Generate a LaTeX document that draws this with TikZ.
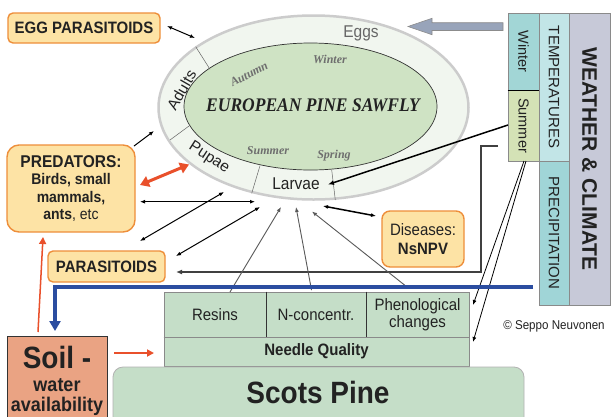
\documentclass[tikz,border=0pt]{standalone}
\usepackage{graphicx}
\usepackage{fontspec}
\setmainfont{Liberation Sans}
\newfontfamily\timesf{Liberation Serif}
\usetikzlibrary{arrows.meta}
\newcommand\myfs[2]{\fontsize{#1}{#2}\selectfont}
\newcommand\vst[1]{\scalebox{1}[1.1]{#1}}
\definecolor{orfill}{HTML}{FDE3A5}
\definecolor{orbord}{HTML}{EE8E3A}
\definecolor{ringf}{HTML}{F1F6EF}
\definecolor{ringb}{HTML}{CCCCCC}
\definecolor{innerf}{HTML}{CFE3C4}
\definecolor{seasonc}{HTML}{6E6E6E}
\definecolor{panelf}{HTML}{C5DEC8}
\definecolor{panelb}{HTML}{8A8A8A}
\definecolor{soilf}{HTML}{EAA383}
\definecolor{blueln}{HTML}{2B4DA0}
\definecolor{redln}{HTML}{E9502B}
\definecolor{winterf}{HTML}{A2D6D6}
\definecolor{summerf}{HTML}{D4E2B6}
\definecolor{tempf}{HTML}{C2E5E7}
\definecolor{precf}{HTML}{A0D5D7}
\definecolor{weatherf}{HTML}{C7C9D8}
\definecolor{bigarrow}{HTML}{98A4BA}
\definecolor{txt}{HTML}{222222}
\begin{document}
\begin{tikzpicture}[x=1pt,y=-1pt,
  orbox/.style={draw=orbord,fill=orfill,line width=1.4pt,rounded corners=5pt,inner sep=0pt,align=center,text=txt},
  colbox/.style={draw=panelb,line width=0.6pt,inner sep=0pt},
  panelcell/.style={draw=panelb,fill=panelf,line width=0.8pt,inner sep=0pt,align=center,text=txt,font=\myfs{15}{17}},
  season/.style={font=\timesf\bfseries\itshape\myfs{12}{14},text=seasonc},
  stage/.style={font=\myfs{15.5}{17},text=txt},
  blk/.style={draw=black,line width=1pt,{Latex[length=5pt,width=4pt]}-{Latex[length=5pt,width=4pt]}},
  blkone/.style={draw=black,line width=1pt,-{Latex[length=5pt,width=4pt]}},
  gry/.style={draw=black!65,line width=0.9pt,-{Latex[length=5pt,width=4pt]}},
]
\useasboundingbox (0,0) rectangle (611,416);
\fill[white] (0,0) rectangle (611,416);

% ---- sawfly life cycle ellipse
\path[draw=ringb,line width=2.5pt,fill=ringf] (313.5,107.5) ellipse [x radius=155pt, y radius=92pt];
\path[draw=black!80,line width=0.7pt,fill=innerf] (310.5,106.5) ellipse [x radius=126.5pt, y radius=63.5pt];
\coordinate (d1a) at (195.7,46.7); \coordinate (d1b) at (210,69.3);
\coordinate (d2a) at (170,140);   \coordinate (d2b) at (189,126);
\coordinate (d3a) at (260,165.7); \coordinate (d3b) at (251.7,193.3);
\coordinate (d4a) at (331.7,170); \coordinate (d4b) at (335.3,200);
\foreach \a/\b in {d1a/d1b,d2a/d2b,d3a/d3b,d4a/d4b} \draw[black!60,line width=0.5pt] (\a) -- (\b);

\node[stage,text=black!60] (eggs) at (361,33) {\vst{Eggs}};
\node[stage,rotate=60,inner sep=0pt] (adults) at (181.5,90) {Adults};
\node[stage,rotate=-33,inner sep=0pt] (pupae) at (209,158) {Pupae};
\node[stage] (larvae) at (296,184) {\vst{Larvae}};
\node[season,rotate=28,inner sep=0pt] (autumn) at (249,74) {Autumn};
\node[season] (winter) at (330,59) {Winter};
\node[season] (summer) at (268,151) {Summer};
\node[season] (spring) at (334,156) {Spring};
\node[font=\timesf\bfseries\itshape\myfs{17.5}{20},text=txt] (saw) at (313,105) {\vst{EUROPEAN PINE SAWFLY}};

% ---- enemies
\node[orbox,minimum width=152pt,minimum height=30pt,font=\bfseries\myfs{15}{17}] (eggpar) at (84,28) {\vst{EGG PARASITOIDS}};
\node[orbox,rounded corners=12pt,minimum width=128pt,minimum height=87pt,font=\bfseries\myfs{14}{17.3}] (pred) at (71,188.5)
  {\vst{\myfs{15.5}{17.3}PREDATORS:}\\\vst{Birds, small}\\\vst{mammals,}\\\vst{ants{\mdseries, etc}}};
\node[orbox,minimum width=117pt,minimum height=31pt,font=\bfseries\myfs{15}{17}] (par) at (106.5,266.5) {\vst{PARASITOIDS}};
\node[orbox,rounded corners=8pt,minimum width=82pt,minimum height=56pt,font=\myfs{15}{19}] (dis) at (423,239) {\vst{Diseases:}\\\vst{\textbf{NsNPV}}};

% ---- weather & climate
\node[colbox,fill=winterf,minimum width=31pt,minimum height=77pt] (wint) at (523.5,51.5) {};
\node[colbox,fill=summerf,minimum width=31pt,minimum height=71pt] (summ) at (523.5,125.5) {};
\draw[black,line width=1pt] (wint.south west) -- (wint.south east);
\node[colbox,fill=tempf,minimum width=30pt,minimum height=148pt] (temp) at (554,87) {};
\node[colbox,fill=precf,minimum width=30pt,minimum height=144pt] (prec) at (554,233) {};
\node[colbox,fill=weatherf,minimum width=41pt,minimum height=292pt] (weat) at (589.5,159) {};
\node[rotate=-90,font=\myfs{14.5}{16},text=txt] at (wint) {Winter};
\node[rotate=-90,font=\myfs{14.5}{16},text=txt] at (summ) {Summer};
\node[rotate=-90,font=\myfs{15}{16},text=txt] at (temp) {TEMPERATURES};
\node[rotate=-90,font=\myfs{15}{16},text=txt] at (prec) {PRECIPITATION};
\node[rotate=-90,font=\bfseries\myfs{21}{22},text=txt] at (weat) {WEATHER \& CLIMATE};

% big grey arrow Winter -> Eggs
\draw[draw=black!45,fill=bigarrow,line width=0.6pt]
  (503,22.7) -- (432,22.7) -- (432,18.3) -- (408,26.5) -- (432,34.7) -- (432,30.5) -- (503,30.5) -- cycle;

% ---- tree panel
\node[panelcell,minimum width=102pt,minimum height=45pt] (res) at (215,314.5) {\vst{Resins}};
\node[panelcell,minimum width=100pt,minimum height=45pt] (nc) at (316,314.5) {\vst{N-concentr.}};
\node[panelcell,minimum width=103pt,minimum height=45pt,font=\myfs{15}{17}] (phen) at (417.5,314.5) {\vst{Phenological}\\\vst{changes}};
\draw[black!80,line width=0.9pt] (res.north east) -- (res.south east) (nc.north east) -- (nc.south east) (res.south west) -- (phen.south east);
\node[panelcell,minimum width=305pt,minimum height=29pt,font=\bfseries\myfs{15}{17}] (nq) at (316.5,351.5) {\vst{Needle Quality}};
\node[draw=black!30,fill=panelf,line width=0.8pt,rounded corners=10pt,minimum width=411pt,minimum height=60pt,inner sep=0pt] (pine) at (318.5,397) {};
\node[font=\bfseries\myfs{28}{30},text=txt] at (318,392) {\vst{Scots Pine}};
\node[draw=black!80,fill=soilf,line width=0.8pt,minimum width=100pt,minimum height=90pt,inner sep=0pt] (soil) at (57,381) {};
\node[font=\bfseries\myfs{28}{30},text=txt] at (57,357) {\vst{Soil -}};
\node[font=\bfseries\myfs{18}{20},text=txt] at (57,385) {\vst{water}};
\node[font=\bfseries\myfs{18}{20},text=txt] at (57,406) {\vst{availability}};
\node[font=\myfs{11.6}{13},text=txt] (copy) at (554,326) {\vst{\textcopyright{} Seppo Neuvonen}};

% ---- connectors
\coordinate (e1) at (167,26);   \coordinate (e2) at (195,38);
\draw[blk] (e1) -- (e2);
\coordinate (p1) at (134,146);  \coordinate (p2) at (154,131);
\draw[blkone] (p1) -- (p2);
\coordinate (r1) at (140,185);  \coordinate (r2) at (189,164.5);
\draw[redln,line width=3pt,{Triangle[length=9pt,width=11pt]}-{Triangle[length=9pt,width=11pt]}] (r1) -- (r2);
\coordinate (h1) at (140,201.7); \coordinate (h2) at (255,201.7);
\draw[blk] (h1) -- (h2);
\coordinate (a1) at (140,241);  \coordinate (a2) at (224,192);
\draw[blk] (a1) -- (a2);
\coordinate (b1) at (176,256);  \coordinate (b2) at (260,207);
\draw[blk] (b1) -- (b2);
\coordinate (ds1) at (323,206); \coordinate (ds2) at (376,216);
\draw[blk,line width=1.5pt] (ds1) -- (ds2);
% bracket from summer to parasitoids
\coordinate (g0) at (498,146); \coordinate (g1) at (481,146); \coordinate (g2) at (481,272); \coordinate (g3) at (176,272);
\draw[black!75,line width=1.5pt,-{Latex[length=6pt,width=5pt]}] (g0) -- (g1) -- (g2) -- (g3);
% summer -> larvae
\coordinate (s1) at (508,125); \coordinate (s2) at (328,184.5);
\draw[black,line width=1.5pt,-{Latex[length=6pt,width=5pt]}] (s1) -- (s2);
% summer -> phenology / needle quality
\coordinate (s3) at (524,161); \coordinate (s4) at (473,305);
\coordinate (s5) at (526,161); \coordinate (s6) at (473,342);
\draw[black,line width=0.8pt,-{Latex[length=5pt,width=4pt]}] (s3) -- (s4);
\draw[black,line width=0.8pt,-{Latex[length=5pt,width=4pt]}] (s5) -- (s6);
% tree -> larvae
\coordinate (t1) at (230,292); \coordinate (t2) at (281,207);
\coordinate (t3) at (311.7,291); \coordinate (t4) at (296,207);
\coordinate (t5) at (407,287); \coordinate (t6) at (312,211.5);
\draw[gry] (t1) -- (t2);
\draw[gry,{Latex[length=5pt,width=4pt]}-{Latex[length=5pt,width=4pt]}] (t3) -- (t4);
\draw[gry] (t5) -- (t6);
% blue water line
\coordinate (w0) at (533,287); \coordinate (w1) at (55,287); \coordinate (w2) at (55,331);
\draw[blueln,line width=4pt,-{Triangle[length=10pt,width=11pt]}] (w0) -- (w1) -- (w2);
% soil arrows
\coordinate (o1) at (114,353); \coordinate (o2) at (154,353);
\draw[redln,line width=2pt,-{Triangle[length=7pt,width=7pt]}] (o1) -- (o2);
\coordinate (o3) at (38,332); \coordinate (o4) at (43,237);
\draw[redln,line width=1.5pt,-{Triangle[length=7pt,width=7pt]}] (o3) -- (o4);
\end{tikzpicture}
\end{document}
